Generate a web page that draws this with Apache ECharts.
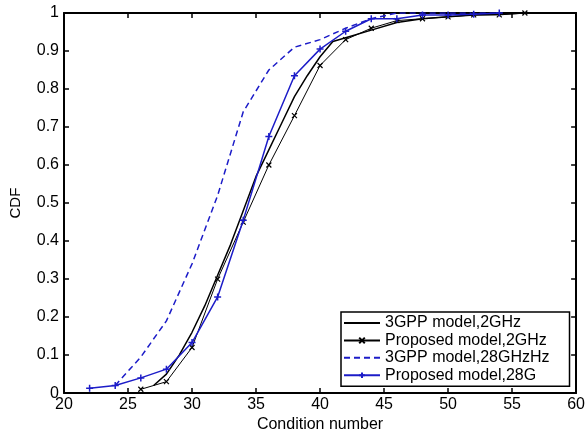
<!DOCTYPE html>
<html>
<head>
<meta charset="utf-8">
<script src="https://cdn.jsdelivr.net/npm/echarts@6/dist/echarts.min.js"></script>
<style>html,body{margin:0;padding:0;background:#fff;}#c{width:588px;height:438px;}</style>
</head>
<body>
<div id="c"></div>
<script>
var seriesNames = ['3GPP model,2GHz', 'Proposed model,2GHz', '3GPP model,28GHzHz', 'Proposed model,28G'];

var gpp2X = [27, 28, 29, 30, 31, 32, 33, 34, 35, 36, 37, 38, 39, 40, 41, 42, 44, 46, 48, 50, 52, 54, 56];
var gpp2Y = [0.02, 0.05, 0.10, 0.16, 0.23, 0.31, 0.39, 0.48, 0.57, 0.64, 0.71, 0.78, 0.835, 0.885, 0.925, 0.935, 0.955, 0.975, 0.985, 0.99, 0.995, 0.997, 1.0];

var prop2X = [26, 28, 30, 32, 34, 36, 38, 40, 42, 44, 46, 48, 50, 52, 54, 56];
var prop2Y = [0.01, 0.03, 0.12, 0.30, 0.45, 0.60, 0.73, 0.862, 0.93, 0.96, 0.98, 0.985, 0.99, 0.995, 0.995, 1.0];

var gpp28X = [24, 26, 28, 30, 32, 34, 36, 38, 40, 42, 44, 46, 48, 50, 52, 54];
var gpp28Y = [0.02, 0.095, 0.19, 0.34, 0.52, 0.74, 0.85, 0.91, 0.93, 0.96, 0.985, 1.0, 1.0, 1.0, 1.0, 1.0];

var prop28X = [22, 24, 26, 28, 30, 32, 34, 36, 38, 40, 42, 44, 46, 48, 50, 52, 54];
var prop28Y = [0.013, 0.02, 0.04, 0.063, 0.133, 0.253, 0.455, 0.675, 0.835, 0.905, 0.952, 0.985, 0.985, 0.995, 0.995, 0.997, 1.0];

var xTicks = [20, 25, 30, 35, 40, 45, 50, 55, 60];
var yTicks = [0, 0.1, 0.2, 0.3, 0.4, 0.5, 0.6, 0.7, 0.8, 0.9, 1];

function pairs(xs, ys) { return xs.map(function (x, i) { return [x, ys[i]]; }); }

var BLUE = '#1c1cc8';
var FONT = 'Liberation Sans, Arial, sans-serif';

var chart = echarts.init(document.getElementById('c'), null, { renderer: 'canvas' });

var axisCommon = {
  axisLine: { show: true, onZero: false, lineStyle: { color: '#000', width: 2 } },
  axisTick: { show: true, inside: true, length: 5, lineStyle: { color: '#000', width: 1.5 } },
  splitLine: { show: false }
};

var hiddenMark = { color: 'transparent', borderColor: 'transparent', borderWidth: 0, opacity: 0 };

chart.setOption({
  animation: false,
  backgroundColor: '#fff',
  grid: { left: 58, right: 10, top: 13, bottom: 34, containLabel: false },
  xAxis: [
    Object.assign({
      type: 'value', min: xTicks[0], max: xTicks[xTicks.length - 1], interval: 5,
      position: 'bottom',
      name: 'Condition number', nameLocation: 'middle', nameGap: 20,
      nameTextStyle: { color: '#000', fontSize: 16, fontFamily: FONT },
      axisLabel: { color: '#000', fontSize: 16, fontFamily: FONT, margin: 3 }
    }, axisCommon),
    Object.assign({
      type: 'value', min: xTicks[0], max: xTicks[xTicks.length - 1], interval: 5,
      position: 'top', axisLabel: { show: false }
    }, axisCommon)
  ],
  yAxis: [
    Object.assign({
      type: 'value', min: yTicks[0], max: yTicks[yTicks.length - 1], interval: 0.1,
      position: 'left',
      name: 'CDF', nameLocation: 'middle', nameGap: 41, nameRotate: 90,
      nameTextStyle: { color: '#000', fontSize: 15, fontFamily: FONT },
      axisLabel: { color: '#000', fontSize: 16, fontFamily: FONT, margin: 5 }
    }, axisCommon),
    Object.assign({
      type: 'value', min: yTicks[0], max: yTicks[yTicks.length - 1], interval: 0.1,
      position: 'right', axisLabel: { show: false }
    }, axisCommon)
  ],
  legend: {
    show: true,
    orient: 'vertical',
    left: 341, top: 312,
    padding: [3, 20, 3, 2],
    itemGap: 1.4,
    itemWidth: 36, itemHeight: 7,
    backgroundColor: '#fff',
    borderColor: '#000', borderWidth: 1.5,
    textStyle: { color: '#000', fontSize: 16, fontFamily: FONT },
    data: [
      { name: seriesNames[0], itemStyle: hiddenMark },
      { name: seriesNames[1] },
      { name: seriesNames[2], itemStyle: hiddenMark },
      { name: seriesNames[3] }
    ]
  },
  series: [
    {
      name: seriesNames[0], type: 'line', data: pairs(gpp2X, gpp2Y),
      showSymbol: false, symbol: 'none',
      lineStyle: { color: '#000', width: 1.5 }, itemStyle: { color: '#000' },
      emphasis: { disabled: true }, z: 3
    },
    {
      name: seriesNames[1], type: 'line', data: pairs(prop2X, prop2Y),
      symbol: 'path://M0,0L10,10M0,10L10,0', symbolSize: 5,
      lineStyle: { color: '#000', width: 1 },
      itemStyle: { color: 'transparent', borderColor: '#000', borderWidth: 1.2 },
      emphasis: { disabled: true }, z: 4
    },
    {
      name: seriesNames[2], type: 'line', data: pairs(gpp28X, gpp28Y),
      showSymbol: false, symbol: 'none',
      lineStyle: { color: BLUE, width: 1.5, type: [6, 4] }, itemStyle: { color: BLUE },
      emphasis: { disabled: true }, z: 2
    },
    {
      name: seriesNames[3], type: 'line', data: pairs(prop28X, prop28Y),
      symbol: 'path://M0,5L10,5M5,0L5,10', symbolSize: 7,
      lineStyle: { color: BLUE, width: 1.5 },
      itemStyle: { color: 'transparent', borderColor: BLUE, borderWidth: 1.5 },
      emphasis: { disabled: true }, z: 5
    }
  ]
});
</script>
</body>
</html>
